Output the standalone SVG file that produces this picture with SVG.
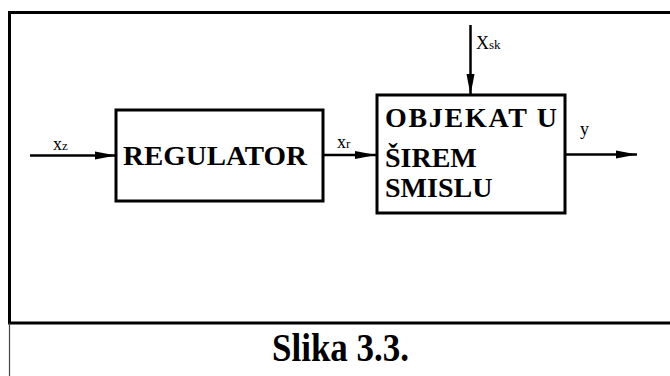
<svg xmlns="http://www.w3.org/2000/svg" width="670" height="376" viewBox="0 0 670 376">
  <style>
    .frame { fill: none; stroke: #000; stroke-width: 3; }
    .block { fill: #fff; stroke: #000; stroke-width: 3; }
    .wire { fill: none; stroke: #000; stroke-width: 2.5; }
    text { font-family: 'Liberation Serif', Tinos, 'Times New Roman', Times, serif; fill: #000; }
    .title { font-weight: 700; font-size: 28px; }
    .sig { font-size: 18px; }
    .sub { font-size: 13px; }
    .caption { font-weight: 700; font-size: 40px; }
  </style>
  <defs>
    <marker id="arrow" markerUnits="userSpaceOnUse" markerWidth="22" markerHeight="9" refX="21" refY="4.5" orient="auto">
      <path d="M0,0.5 L21,4.5 L0,8.5 Z" fill="#000"/>
    </marker>
  </defs>

  <rect width="670" height="376" fill="#fff"/>

  <!-- outer frame -->
  <g id="frame">
    <polyline class="frame" points="670,12.5 9.5,12.5 9.5,323 670,323"/>
    <line x1="9.5" y1="323" x2="9.5" y2="376" stroke="#444" stroke-width="1.2"/>
  </g>

  <!-- connectors -->
  <g id="connectors">
    <line class="wire" x1="30" y1="155.5" x2="116" y2="155.5" marker-end="url(#arrow)"/>
    <line class="wire" x1="324" y1="155" x2="376" y2="155" marker-end="url(#arrow)"/>
    <line class="wire" x1="470.5" y1="25" x2="470.5" y2="95" marker-end="url(#arrow)"/>
    <line class="wire" x1="566" y1="154.5" x2="637" y2="154.5" marker-end="url(#arrow)"/>
  </g>

  <!-- signal labels -->
  <g id="labels">
    <text class="sig" x="53" y="150">x<tspan class="sub">z</tspan></text>
    <text class="sig" x="337" y="148">x<tspan class="sub">r</tspan></text>
    <text class="sig" x="476" y="49">X<tspan class="sub">sk</tspan></text>
    <text class="sig" x="580" y="135">y</text>
  </g>

  <g id="regulator">
    <rect class="block" x="116" y="110" width="207" height="91"/>
    <text class="title" x="123" y="165" textLength="184" lengthAdjust="spacingAndGlyphs">REGULATOR</text>
  </g>

  <g id="objekat">
    <rect class="block" x="377" y="95" width="188" height="118"/>
    <text class="title" x="385" y="127" textLength="172" lengthAdjust="spacing">OBJEKAT U</text>
    <text class="title" x="385" y="167">ŠIREM</text>
    <text class="title" x="385" y="197">SMISLU</text>
  </g>

  <text class="caption" x="272" y="361" textLength="137" lengthAdjust="spacingAndGlyphs">Slika 3.3.</text>
</svg>
